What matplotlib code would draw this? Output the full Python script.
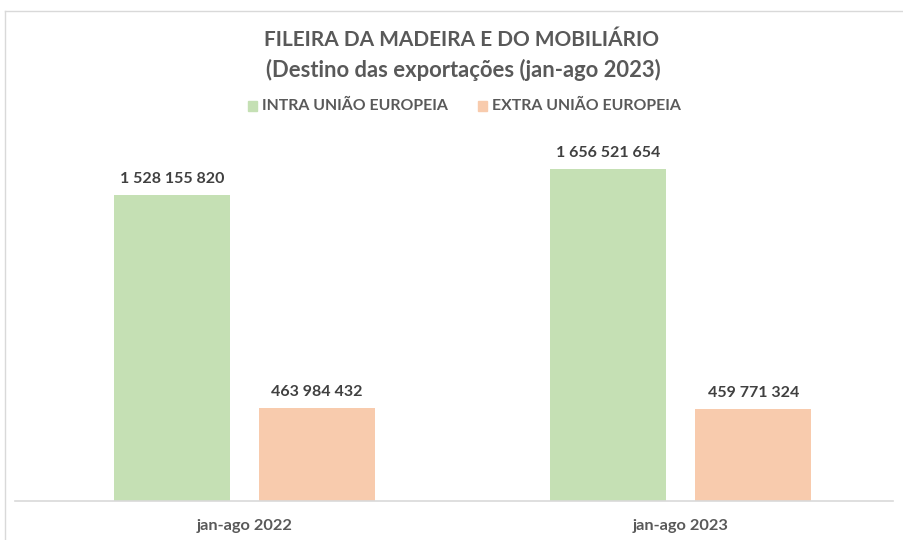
import matplotlib
matplotlib.use('Agg')
import matplotlib.pyplot as plt
from matplotlib.lines import Line2D
from matplotlib.patches import Rectangle
import numpy as np

categories = ['jan-ago 2022', 'jan-ago 2023']
series_names = ['INTRA UNIÃO EUROPEIA', 'EXTRA UNIÃO EUROPEIA']
intra = [1528155820, 1656521654]
extra = [463984432, 459771324]
colors = ['#C5E0B4', '#F8CBAD']

def fmt(v):
    return '{:,}'.format(v).replace(',', ' ')

plt.rcParams['font.family'] = ['Lato', 'DejaVu Sans']
txt = '#595959'

fig = plt.figure(figsize=(9.04, 5.4), dpi=100)
ax = fig.add_axes([15/904, 39/540, 878/904, 361/540])

x = np.arange(len(categories))
w = 0.266
off = 0.1665
for vals, c, dx in [(intra, colors[0], -off), (extra, colors[1], off)]:
    bars = ax.bar(x + dx, vals, width=w, color=c)
    for b, v in zip(bars, vals):
        ax.text(b.get_x() + b.get_width()/2, v + 0.045e9, fmt(v), ha='center', va='bottom',
                fontsize=11.5, fontweight='bold', color='#404040')

ax.set_xlim(-0.526, 1.487)
ax.set_ylim(0, 1.802e9)
ax.set_yticks([])
ax.set_xticks(x)
ax.set_xticklabels(categories, fontsize=11.8, fontweight='bold', color=txt)
ax.tick_params(axis='x', length=0, pad=13)
for s in ['top', 'right', 'left']:
    ax.spines[s].set_visible(False)
ax.spines['bottom'].set_color('#D9D9D9')
ax.spines['bottom'].set_linewidth(1.2)

fig.text(462/904, 1 - 40/540, 'FILEIRA DA MADEIRA E DO MOBILIÁRIO', ha='center', va='center',
         fontsize=15, fontweight='bold', color=txt)
fig.text(463/904, 1 - 70/540, '(Destino das exportações (jan-ago 2023)', ha='center', va='center',
         fontsize=15.8, fontweight='bold', color=txt)

# legend
for name, c, x0 in [(series_names[0], colors[0], 248), (series_names[1], colors[1], 478)]:
    fig.add_artist(Rectangle((x0/904, 1 - 111/540), 9/904, 10/540, color=c, transform=fig.transFigure))
    fig.text((x0 + 14)/904, 1 - 106/540, name, ha='left', va='center',
             fontsize=11.4, fontweight='bold', color=txt)

# chart border
fig.add_artist(Line2D([5/904, 1], [1 - 11/540, 1 - 11/540], color='#D9D9D9', lw=1, transform=fig.transFigure))
fig.add_artist(Line2D([5/904, 5/904], [0, 1 - 11/540], color='#D9D9D9', lw=1, transform=fig.transFigure))

fig.savefig('out.png', dpi=100)
